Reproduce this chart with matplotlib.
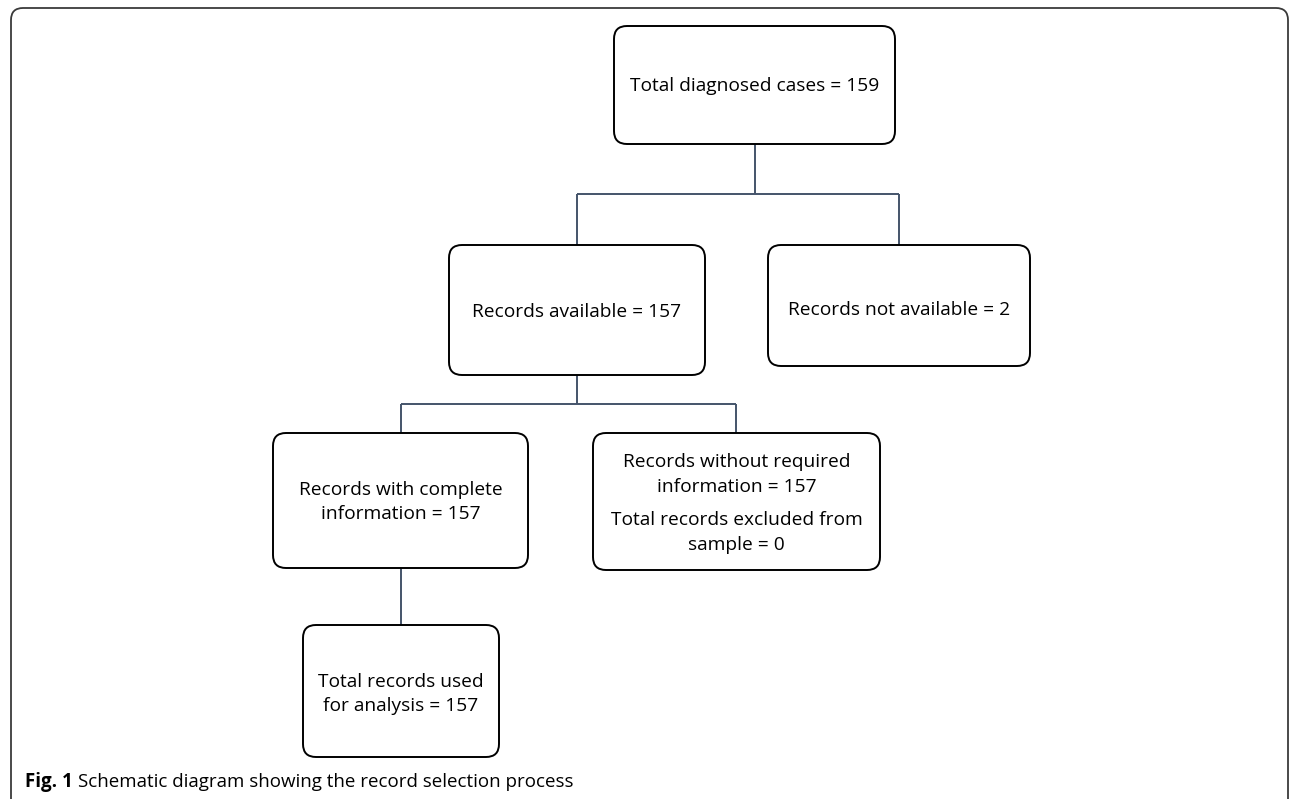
import matplotlib
matplotlib.use("Agg")
import matplotlib.pyplot as plt
from matplotlib.patches import FancyBboxPatch

# ---- content ----
box_labels = [
    ["Total diagnosed cases = 159"],
    ["Records available = 157"],
    ["Records not available = 2"],
    ["Records with complete", "information = 157"],
    ["Records without required", "information = 157",
     "Total records excluded from", "sample = 0"],
    ["Total records used", "for analysis = 157"],
]
caption_bold = "Fig. 1"
caption_text = "Schematic diagram showing the record selection process"

# ---- layout (pixels, y from top) ----
W, H = 1290, 799
boxes = [
    (614, 26, 895, 144),
    (449, 245, 705, 375),
    (768, 245, 1030, 366),
    (273, 433, 528, 568),
    (593, 433, 880, 570),
    (303, 625, 499, 757),
]
baselines = [
    [91],
    [317],
    [315],
    [495, 519],
    [467, 492, 525, 550],
    [687, 711],
]
connectors = [
    [(755, 144), (755, 194)],
    [(577, 194), (899, 194)],
    [(577, 194), (577, 245)],
    [(899, 194), (899, 245)],
    [(577, 375), (577, 404)],
    [(401, 404), (736, 404)],
    [(401, 404), (401, 433)],
    [(736, 404), (736, 433)],
    [(401, 568), (401, 625)],
]

FONT = ["Open Sans", "DejaVu Sans"]
plt.rcParams['font.family'] = FONT

fig = plt.figure(figsize=(W / 100, H / 100), dpi=100)
ax = fig.add_axes([0, 0, 1, 1])
ax.set_xlim(0, W)
ax.set_ylim(H, 0)
ax.axis("off")

# outer frame (open at the bottom, extends beyond the image)
frame = FancyBboxPatch((11, 8), 1277, 830, boxstyle="round,pad=0,rounding_size=12",
                       fc="white", ec="#3a3a3a", lw=1.3, zorder=0)
ax.add_patch(frame)

line_color = "#44546A"
for seg in connectors:
    (x0, y0), (x1, y1) = seg
    ax.plot([x0, x1], [y0, y1], color=line_color, lw=1.4, solid_capstyle="butt", zorder=1)

fs = 13.75
for (x0, y0, x1, y1), lines, bls in zip(boxes, box_labels, baselines):
    p = FancyBboxPatch((x0, y0), x1 - x0, y1 - y0,
                       boxstyle="round,pad=0,rounding_size=13",
                       fc="white", ec="black", lw=1.4, zorder=2)
    ax.add_patch(p)
    cx = (x0 + x1) / 2
    for line, b in zip(lines, bls):
        ax.text(cx, b, line, ha="center", va="baseline", fontsize=fs,
                color="black", zorder=3)

# caption
cap_fs = 13.5
t1 = ax.text(25, 787, caption_bold, ha="left", va="baseline", fontsize=cap_fs,
             fontweight="bold", zorder=3)
fig.canvas.draw()
bb = t1.get_window_extent(renderer=fig.canvas.get_renderer())
x_end = ax.transData.inverted().transform((bb.x1, bb.y0))[0]
ax.text(x_end + 5, 787, caption_text, ha="left", va="baseline", fontsize=cap_fs, zorder=3)

fig.savefig("out.png", dpi=100)
